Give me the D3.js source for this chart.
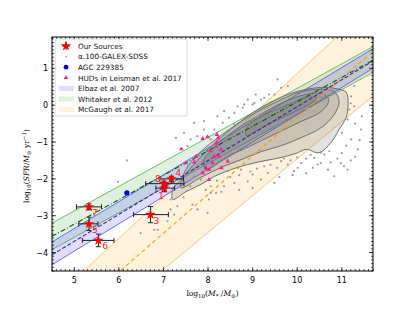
<!DOCTYPE html>
<html>
<head>
<meta charset="UTF-8"/>
<style>
  body { margin: 0; background: #fff; }
  text { font-family: "DejaVu Sans", sans-serif; }
</style>
</head>
<body>
<script src="https://cdn.jsdelivr.net/npm/d3@7"></script>
<script>
// ---- data ----
var xTicks = [5, 6, 7, 8, 9, 10, 11];
var yTicks = [-4, -3, -2, -1, 0, 1];

// relation bands: values of log SFR at the left and right edge (logM = 4.5, 11.7)
var bandX = [4.5, 11.7];
var elbazUpper = [-3.71, 1.53], elbazMid = [-4.06, 1.20], elbazLower = [-4.33, 1.00];
var whitakerUpper = [-3.20, 1.59], whitakerMid = [-3.56, 1.22], whitakerLower = [-3.92, 0.89];
var mcgaughUpper = [-5.29, 2.76], mcgaughMid = [-6.10, 1.46], mcgaughLower = [-6.96, 0.25];

// GALEX-SDSS density contours, outer to inner  [logM, logSFR]
var contour1 = [[7.21,-2.56],[7.50,-2.35],[7.84,-2.15],[8.13,-1.94],[8.51,-1.75],[8.89,-1.61],[9.30,-1.50],[9.64,-1.42],
  [9.97,-1.31],[10.20,-1.20],[10.49,-1.29],[10.76,-1.01],[10.94,-0.66],[11.10,-0.33],[11.14,0.02],[11.10,0.35],
  [10.87,0.45],[10.54,0.48],[10.20,0.43],[9.86,0.32],[9.52,0.15],[9.19,-0.06],[8.85,-0.33],[8.56,-0.61],
  [8.24,-0.93],[7.95,-1.26],[7.68,-1.61],[7.43,-1.96],[7.21,-2.29]];
var contour2 = [[7.39,-2.24],[7.84,-1.96],[8.29,-1.69],[8.74,-1.48],[9.19,-1.26],[9.64,-1.10],[10.09,-0.88],[10.54,-0.61],
  [10.83,-0.25],[10.94,0.10],[10.83,0.37],[10.54,0.43],[10.09,0.37],[9.64,0.15],[9.19,-0.12],[8.74,-0.44],
  [8.29,-0.82],[7.84,-1.26],[7.50,-1.75]];
var contour3 = [[7.95,-1.75],[8.40,-1.42],[8.96,-1.10],[9.52,-0.77],[10.09,-0.44],[10.54,-0.17],[10.71,0.15],[10.54,0.32],
  [10.09,0.26],[9.64,0.05],[9.14,-0.28],[8.62,-0.66],[8.18,-1.10],[7.91,-1.48]];
var contour4 = [[8.85,-0.82],[9.30,-0.55],[9.86,-0.23],[10.31,0.05],[10.44,0.21],[10.20,0.21],[9.75,-0.01],[9.24,-0.28],[8.90,-0.55]];

// GALEX-SDSS galaxies outside the contours
var galexM = [7.69,7.84,8.06,8.36,8.59,8.89,9.19,9.49,9.34,9.0,8.74,8.44,9.26,9.64,9.79,10.01,9.93,10.09,10.35,10.46,10.38,10.53,10.61,10.72,
  8.2,8.5,8.7,8.95,9.1,9.4,9.55,9.7,9.85,10.0,10.2,10.3,8.3,8.7,9.0,9.6,9.9,10.2,7.95,7.6,7.45,
  11.21,11.28,11.17,11.13,11.43,11.21,11.36,10.98,11.13,10.83,10.69,10.53,11.28,
  10.9,11.0,11.1,11.2,11.3,11.05,10.75,11.4,11.0,11.3,11.45,11.2,
  8.36,8.47,8.78,8.89,9.19,8.92,9.11,9.07,9.0,8.66,8.21,8.33,8.51,8.14,7.91,7.76,8.40,8.06,7.61,7.54,9.56,9.79,
  8.59,8.81,9.04,9.26,9.37,9.49,9.64,7.69,7.91,7.46,7.28,8.59,
  6.18,5.98,6.49,6.79,7.99,8.06,7.16,7.24,7.31,7.16,7.09,6.87,7.65,7.76,8.02,8.18];
var galexSFR = [-1.93,-2.02,-2.20,-2.20,-2.11,-2.07,-2.02,-2.11,-1.84,-1.88,-1.75,-1.79,-1.66,-1.52,-1.61,-1.70,-1.79,-1.57,-1.70,-1.61,-1.43,-1.29,-1.34,-1.25,
  -2.05,-1.95,-1.9,-1.8,-1.72,-1.62,-1.70,-1.45,-1.5,-1.42,-1.45,-1.35,-2.35,-2.3,-2.25,-1.95,-1.9,-1.85,-2.3,-2.2,-2.5,
  0.24,-0.03,-0.12,-0.39,-0.66,-0.93,-1.20,-1.57,-1.75,-1.93,-1.75,-1.57,0.52,
  -1.45,-1.3,-1.1,-1.5,-1.4,-1.65,-1.55,-0.95,-0.75,-0.5,-0.3,0.05,
  -0.16,-0.34,-0.07,0.15,0.15,-0.48,-0.30,0.29,0.02,-0.03,-0.30,-0.48,-0.66,-0.66,-0.66,-0.84,-0.84,-0.93,-0.93,-1.11,0.70,0.52,
  -0.21,0.02,0.06,0.20,0.29,0.29,0.47,-0.48,-0.43,-0.75,-0.89,-0.52,
  -1.50,-2.08,-3.47,-3.38,-2.92,-2.38,-2.83,-2.97,-2.74,-2.56,-3.15,-3.38,-2.70,-2.83,-2.56,-2.38];

// HUDs in Leisman et al. 2017
var hudM = [7.40,7.50,7.69,7.73,7.88,7.99,8.20,7.88,8.02,8.05,8.19,8.25,8.44,8.14,8.18,8.29,8.30,7.95,8.02,8.10,8.23];
var hudSFR = [-1.19,-1.57,-1.55,-1.39,-0.91,-0.86,-0.80,-1.84,-1.75,-1.23,-1.01,-1.39,-1.52,-1.39,-1.11,-1.20,-1.70,-1.70,-2.02,-1.57,-0.89];

// AGC 229385
var agcM = [6.18], agcSFR = [-2.38];

// our sources
var srcId   = ["1", "3", "4", "5", "6", "7", "8"];
var srcM    = [7.02, 6.71, 7.18, 5.33, 5.54, 5.33, 7.01];
var srcSFR  = [-2.25, -2.97, -2.00, -3.22, -3.67, -2.76, -2.13];
var srcMlo  = [6.83, 6.33, 6.92, 5.10, 5.18, 5.05, 6.60];
var srcMhi  = [7.25, 7.11, 7.45, 5.53, 5.89, 5.61, 7.46];
var srcSFRerr = [0.10, 0.22, 0.07, 0.18, 0.17, 0.08, 0.07];

var legendLabels = ["Our Sources", "\u03b1.100-GALEX-SDSS", "AGC 229385", "HUDs in Leisman et al. 2017",
                    "Elbaz et al. 2007", "Whitaker et al. 2012", "McGaugh et al. 2017"];

// ---- layout ----
var W = 414, H = 310;
var margin = {left: 52, top: 37, right: 41, bottom: 39};
var width = W - margin.left - margin.right;
var height = H - margin.top - margin.bottom;

var svg = d3.select("body").append("svg").attr("width", W).attr("height", H);

var x = d3.scaleLinear().domain([4.5, 11.7]).range([0, width]);
var y = d3.scaleLinear().domain([-4.5, 1.85]).range([height, 0]);

svg.append("defs").append("clipPath").attr("id", "clip")
  .append("rect").attr("width", width).attr("height", height);

var g = svg.append("g").attr("transform", "translate(" + margin.left + "," + margin.top + ")");
var plot = g.append("g").attr("clip-path", "url(#clip)");

// ---- bands ----
function bandPath(up, lo) {
  var pts = [[bandX[0], up[0]], [bandX[1], up[1]], [bandX[1], lo[1]], [bandX[0], lo[0]]];
  return "M" + pts.map(function(p){ return x(p[0]) + "," + y(p[1]); }).join("L") + "Z";
}
function edge(v) { return "M" + x(bandX[0]) + "," + y(v[0]) + "L" + x(bandX[1]) + "," + y(v[1]); }

var bands = [
  {up: mcgaughUpper, mid: mcgaughMid, lo: mcgaughLower, fill: "#ffa500", op: 0.13, line: "#ffb84d", mc: "#ff9900", dash: "4,3"},
  {up: whitakerUpper, mid: whitakerMid, lo: whitakerLower, fill: "#2ca02c", op: 0.15, line: "#4caf50", mc: "#006400", dash: "5,2,1,2"},
  {up: elbazUpper, mid: elbazMid, lo: elbazLower, fill: "#3333ff", op: 0.16, line: "#4a4aff", mc: "#4b1f9e", dash: "4,2"}
];

bands.forEach(function(b){
  plot.append("path").attr("d", bandPath(b.up, b.lo)).attr("fill", b.fill).attr("fill-opacity", b.op);
  plot.append("path").attr("d", edge(b.up)).attr("stroke", b.line).attr("stroke-width", 0.8).attr("fill", "none");
  plot.append("path").attr("d", edge(b.lo)).attr("stroke", b.line).attr("stroke-width", 0.8).attr("fill", "none");
});

// ---- contours ----
var contourLine = d3.line()
  .x(function(d){ return x(d[0]); })
  .y(function(d){ return y(d[1]); })
  .curve(d3.curveCatmullRomClosed.alpha(0.5));

[contour1, contour2, contour3, contour4].forEach(function(c){
  plot.append("path").attr("d", contourLine(c))
    .attr("fill", "#6b6b6b").attr("fill-opacity", 0.2)
    .attr("stroke", "#707070").attr("stroke-width", 1);
});

// ---- GALEX-SDSS scatter ----
plot.selectAll("circle.galex").data(galexM).enter().append("circle")
  .attr("class", "galex")
  .attr("cx", function(d){ return x(d); })
  .attr("cy", function(d, i){ return y(galexSFR[i]); })
  .attr("r", 1.1).attr("fill", "#9a9a9a");

// ---- centre lines ----
bands.forEach(function(b){
  plot.append("path").attr("d", edge(b.mid)).attr("stroke", b.mc).attr("stroke-width", 1.1)
    .attr("stroke-dasharray", b.dash).attr("fill", "none");
});

// ---- HUDs ----
var tri = d3.symbol().type(d3.symbolTriangle).size(9);
plot.selectAll("path.hud").data(hudM).enter().append("path")
  .attr("class", "hud").attr("d", tri)
  .attr("transform", function(d, i){ return "translate(" + x(d) + "," + y(hudSFR[i]) + ")"; })
  .attr("fill", "#ff1a9c");

// ---- AGC ----
plot.selectAll("circle.agc").data(agcM).enter().append("circle")
  .attr("class", "agc")
  .attr("cx", function(d){ return x(d); })
  .attr("cy", function(d, i){ return y(agcSFR[i]); })
  .attr("r", 2.6).attr("fill", "#0000ee");

// ---- our sources ----
var src = g.append("g");
srcM.forEach(function(m, i){
  var cy = y(srcSFR[i]);
  var eb = src.append("g").attr("stroke", "#222").attr("stroke-width", 1);
  eb.append("line").attr("x1", x(srcMlo[i])).attr("x2", x(srcMhi[i])).attr("y1", cy).attr("y2", cy);
  eb.append("line").attr("x1", x(srcMlo[i])).attr("x2", x(srcMlo[i])).attr("y1", cy - 2.5).attr("y2", cy + 2.5);
  eb.append("line").attr("x1", x(srcMhi[i])).attr("x2", x(srcMhi[i])).attr("y1", cy - 2.5).attr("y2", cy + 2.5);
  eb.append("line").attr("x1", x(m)).attr("x2", x(m)).attr("y1", y(srcSFR[i] + srcSFRerr[i])).attr("y2", y(srcSFR[i] - srcSFRerr[i]));
  eb.append("line").attr("x1", x(m) - 2.5).attr("x2", x(m) + 2.5).attr("y1", y(srcSFR[i] + srcSFRerr[i])).attr("y2", y(srcSFR[i] + srcSFRerr[i]));
  eb.append("line").attr("x1", x(m) - 2.5).attr("x2", x(m) + 2.5).attr("y1", y(srcSFR[i] - srcSFRerr[i])).attr("y2", y(srcSFR[i] - srcSFRerr[i]));
});
var star = d3.symbol().type(d3.symbolStar).size(34);
src.selectAll("path.star").data(srcM).enter().append("path")
  .attr("class", "star").attr("d", star)
  .attr("transform", function(d, i){ return "translate(" + x(d) + "," + y(srcSFR[i]) + ")"; })
  .attr("fill", "#ff0000");

// label offsets by id (pixels)
var labOff = {"1": [-6, 11], "3": [3, 9], "4": [4, -3], "5": [3, 9], "6": [4, 9], "7": [3, 9], "8": [-9, -2]};
src.selectAll("text.lab").data(srcId).enter().append("text")
  .attr("class", "lab")
  .attr("x", function(d, i){ return x(srcM[i]) + labOff[d][0]; })
  .attr("y", function(d, i){ return y(srcSFR[i]) + labOff[d][1]; })
  .attr("font-size", 9).attr("fill", "#ff2020").text(function(d){ return d; });

// ---- axes: frame + inward ticks ----
g.append("rect").attr("width", width).attr("height", height)
  .attr("fill", "none").attr("stroke", "#000").attr("stroke-width", 1);

var xMinor = d3.range(45, 118).map(function(v){ return v / 10; });
var yMinor = d3.range(-45, 19).map(function(v){ return v / 10; });
var ticks = g.append("g").attr("stroke", "#000").attr("stroke-width", 0.7);
xMinor.forEach(function(v){
  ticks.append("line").attr("x1", x(v)).attr("x2", x(v)).attr("y1", height).attr("y2", height - 2);
  ticks.append("line").attr("x1", x(v)).attr("x2", x(v)).attr("y1", 0).attr("y2", 2);
});
yMinor.forEach(function(v){
  ticks.append("line").attr("y1", y(v)).attr("y2", y(v)).attr("x1", 0).attr("x2", 2);
  ticks.append("line").attr("y1", y(v)).attr("y2", y(v)).attr("x1", width).attr("x2", width - 2);
});
xTicks.forEach(function(v){
  ticks.append("line").attr("x1", x(v)).attr("x2", x(v)).attr("y1", height).attr("y2", height - 4);
  ticks.append("line").attr("x1", x(v)).attr("x2", x(v)).attr("y1", 0).attr("y2", 4);
});
yTicks.forEach(function(v){
  ticks.append("line").attr("y1", y(v)).attr("y2", y(v)).attr("x1", 0).attr("x2", 4);
  ticks.append("line").attr("y1", y(v)).attr("y2", y(v)).attr("x1", width).attr("x2", width - 4);
});

g.selectAll("text.xt").data(xTicks).enter().append("text")
  .attr("x", function(d){ return x(d); }).attr("y", height + 12)
  .attr("text-anchor", "middle").attr("font-size", 8).text(function(d){ return d; });
g.selectAll("text.yt").data(yTicks).enter().append("text")
  .attr("x", -4).attr("y", function(d){ return y(d) + 3; })
  .attr("text-anchor", "end").attr("font-size", 8)
  .text(function(d){ return d < 0 ? "\u2212" + Math.abs(d) : d; });

// axis titles
var serif = "DejaVu Serif, serif";
var xl = g.append("text").attr("x", width / 2).attr("y", height + 25)
  .attr("text-anchor", "middle").attr("font-size", 7.5).style("font-family", serif);
xl.append("tspan").text("log");
xl.append("tspan").attr("font-size", 5.5).attr("dy", 2).text("10");
xl.append("tspan").attr("dy", -2).text("(");
xl.append("tspan").attr("font-style", "italic").text("M");
xl.append("tspan").attr("font-size", 5.5).attr("dy", 1.5).text("*");
xl.append("tspan").attr("dy", -1.5).text(" /");
xl.append("tspan").attr("font-style", "italic").text("M");
xl.append("tspan").attr("font-size", 5.5).attr("dy", 2).text("\u2299");
xl.append("tspan").attr("dy", -2).text(")");

var yl = g.append("text").attr("transform", "translate(-23," + (height / 2 + 12) + ") rotate(-90)")
  .attr("text-anchor", "middle").attr("font-size", 7.5).style("font-family", serif);
yl.append("tspan").text("log");
yl.append("tspan").attr("font-size", 5.5).attr("dy", 2).text("10");
yl.append("tspan").attr("dy", -2).text("(");
yl.append("tspan").attr("font-style", "italic").text("SFR");
yl.append("tspan").text("/");
yl.append("tspan").attr("font-style", "italic").text("M");
yl.append("tspan").attr("font-size", 5.5).attr("dy", 2).text("\u2299");
yl.append("tspan").attr("dy", -2).text(" yr");
yl.append("tspan").attr("font-size", 5.5).attr("dy", -3).text("\u22121");
yl.append("tspan").attr("dy", 3).text(")");

// ---- legend ----
var lg = g.append("g").attr("transform", "translate(3,2)");
lg.append("rect").attr("width", 132).attr("height", 77).attr("rx", 2)
  .attr("fill", "#fff").attr("fill-opacity", 0.85).attr("stroke", "#cccccc").attr("stroke-width", 0.8);
var ly = function(i){ return 7 + i * 10.6; };
lg.selectAll("text.lt").data(legendLabels).enter().append("text")
  .attr("x", 23).attr("y", function(d, i){ return ly(i) + 2.8; })
  .attr("font-size", 7.3).attr("fill", "#111").text(function(d){ return d; });
// markers
var mx = 11;
var le = lg.append("g").attr("stroke", "#222").attr("stroke-width", 1);
le.append("line").attr("x1", mx - 4).attr("x2", mx + 4).attr("y1", ly(0)).attr("y2", ly(0));
le.append("line").attr("x1", mx).attr("x2", mx).attr("y1", ly(0) - 4).attr("y2", ly(0) + 4);
lg.append("path").attr("d", star).attr("transform", "translate(" + mx + "," + ly(0) + ")").attr("fill", "#ff0000");
lg.append("circle").attr("cx", mx).attr("cy", ly(1)).attr("r", 0.9).attr("fill", "#9a9a9a");
lg.append("circle").attr("cx", mx).attr("cy", ly(2)).attr("r", 2.4).attr("fill", "#0000ee");
lg.append("path").attr("d", tri).attr("transform", "translate(" + mx + "," + ly(3) + ")").attr("fill", "#ff1a9c");
[bands[2], bands[1], bands[0]].forEach(function(b, k){
  lg.append("rect").attr("x", mx - 7).attr("y", ly(4 + k) - 2.5).attr("width", 15).attr("height", 5)
    .attr("fill", b.fill).attr("fill-opacity", b.op);
});
</script>
</body>
</html>
